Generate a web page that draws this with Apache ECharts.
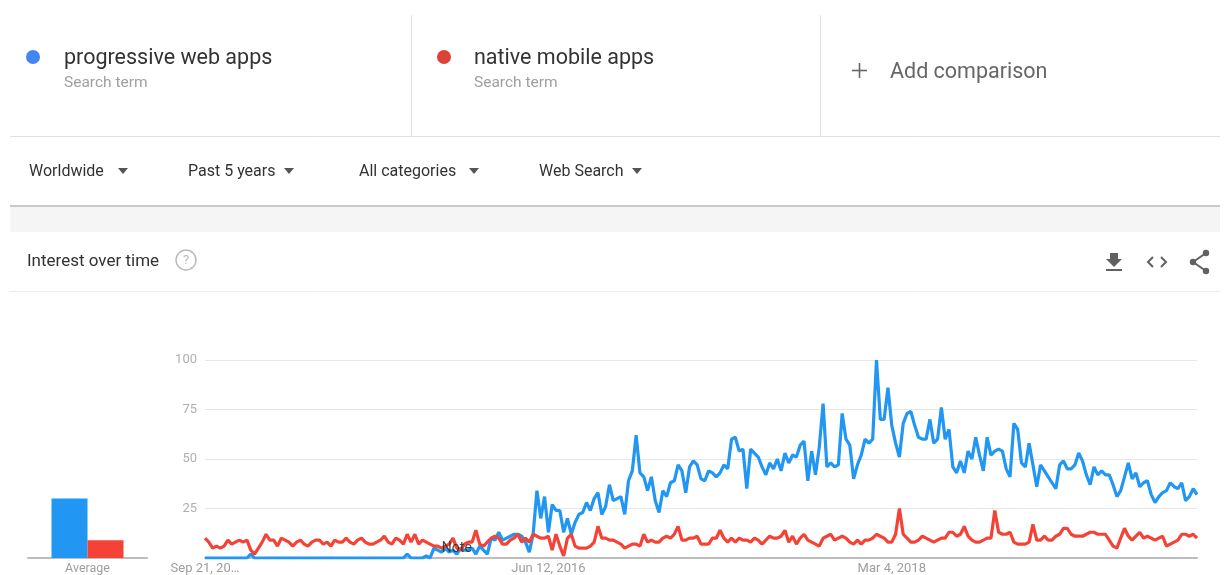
<!DOCTYPE html>
<html>
<head>
<meta charset="utf-8">
<script src="https://cdn.jsdelivr.net/npm/echarts@6/dist/echarts.min.js"></script>
<style>
html,body{margin:0;padding:0;background:#fff;}
#c{width:1226px;height:575px;}
</style>
</head>
<body>
<div id="c"></div>
<script>
// ---- data ----
const termNames = ['progressive web apps', 'native mobile apps'];
const termSub = 'Search term';
const filters = ['Worldwide', 'Past 5 years', 'All categories', 'Web Search'];
const startDate = Date.UTC(2014, 8, 21); // first weekly point (Sep 21, 2014)
const weekCount = 261;
const yTicks = [0, 25, 50, 75, 100];
const averageCategory = ['Average'];
const averageBlue = [30];
const averageRed = [9];

const pwaValues = [
  0,0,0,0,0,0,0,0,0,0, 0,0,2,0,0,0,0,0,0,0,
  0,0,0,0,0,0,0,0,0,0, 0,0,0,0,0,0,0,0,0,0,
  0,0,0,0,0,0,0,0,0,0, 0,0,0,2,0,0,0,0,1,0,
  5,4,3,5,3,4,2,5,4,4, 5,2,6,4,2,10,9,13,9,10, 11,12,12,11,8,3,12,
  34,20,31,13,27,24,24,13,20,12,18,22,23,28,
  24,30,33,22,26,37,29,30,31,22, 39,44,62,43,41,34,41,29,23,34,
  31,38,39,47,44,33,46,49,47,40, 39,44,43,41,43,47,45,60,61,54,
  55,35,55,53,51,46,42,48,45,50, 44,53,48,52,51,57,
  59,39,54,42,56,78,46,48,46,47, 73,60,57,40,47,52,60,58,60,100,
  70,70,86,67,58,51,68,73,74,67, 61,60,60,70,58,60,76,60,65,46,
  43,49,43,54,50,61,52,44,61,52,
  54,55,54,45,41,68,65,48,46,58, 47,36,47,44,41,38,35,47,49,45,
  45,47,53,49,42,37,46,42,44,42, 42,37,31,34,41,48,40,43,36,38,
  39,32,28,31,33,34,38,36,35,38, 29,31,35,32
];
const nativeValues = [
  10,8,5,6,5,6,9,7,8,9, 8,9,4,2,5,8,12,9,9,6,
  10,9,8,6,8,9,7,6,8,9, 9,7,8,6,9,8,8,10,8,7,
  9,10,8,7,7,8,9,11,8,7, 10,9,7,12,8,12,7,9,8,7,
  6,6,5,6,7,10,5,4,7,8, 8,14,7,6,8,10,11,10,7,7,
  9,10,12,8,10,8,12,11,10,10, 11,4,12,
  6,1,10,12,6,5,5,5,
  6,8,16,10,10,9,9,8,7,5, 6,7,7,6,12,8,9,8,8,10,
  11,10,12,16,9,9,10,10,11,7, 7,7,10,10,14,10,8,10,8,10,
  9,9,8,10,9,7,9,11,10,10, 11,14,8,11,7,10,
  12,9,8,7,6,10,11,12,9,10, 11,10,8,7,9,7,9,9,10,12,
  11,10,8,8,12,25,12,10,8,8, 9,11,10,9,8,9,10,10,13,13,
  11,12,16,11,9,8,8,9,10,10,
  24,13,12,12,13,8,7,7,7,8, 17,9,9,11,9,9,11,12,15,15,
  12,11,11,11,12,13,13,12,12,12, 9,6,5,10,15,11,9,11,13,10,
  11,10,9,10,11,6,7,8,9,12, 12,11,12,10
];
const noteIndex = 66;
const noteValue = 5;

// ---- categories (weekly dates) ----
const MONTHS = ['Jan','Feb','Mar','Apr','May','Jun','Jul','Aug','Sep','Oct','Nov','Dec'];
const dates = [];
for (let i = 0; i < weekCount; i++) {
  const d = new Date(startDate + i * 7 * 86400000);
  dates.push(MONTHS[d.getUTCMonth()] + ' ' + d.getUTCDate() + ', ' + d.getUTCFullYear());
}

const BLUE = '#2196f3', RED = '#f44336';
const FONT = 'Roboto, "Noto Sans", sans-serif';
const chart = echarts.init(document.getElementById('c'), null, {renderer: 'canvas'});

function tri(x, y, color) {
  return {type: 'polygon', shape: {points: [[x - 5, y - 3], [x + 5, y - 3], [x, y + 3]]}, style: {fill: color || '#555'}, silent: true};
}
function txt(x, y, text, size, color) {
  return {type: 'text', x: x, y: y, style: {text: text, font: size + 'px ' + FONT, fill: color, verticalAlign: 'middle'}, silent: true};
}
function line(x1, y1, x2, y2, color, w) {
  return {type: 'line', shape: {x1: x1, y1: y1, x2: x2, y2: y2}, style: {stroke: color, lineWidth: w || 1}, silent: true};
}

const filterX = [29, 188, 359, 539];
const triX = [123, 289, 474, 637];

const graphics = [
  // header panels
  line(411.5, 15, 411.5, 136, '#e0e0e0'),
  line(820.5, 15, 820.5, 136, '#e0e0e0'),
  line(10, 136.5, 1220, 136.5, '#e0e0e0'),
  {type: 'circle', shape: {cx: 33, cy: 57, r: 7}, style: {fill: '#4285f4'}, silent: true},
  {type: 'circle', shape: {cx: 444, cy: 57, r: 7}, style: {fill: '#db4437'}, silent: true},
  txt(64, 58.5, termNames[0], 21.5, '#333'),
  txt(64, 83, termSub, 15.5, '#a0a0a0'),
  txt(474, 58.5, termNames[1], 21.5, '#333'),
  txt(474, 83, termSub, 15.5, '#a0a0a0'),
  line(852, 70.5, 867, 70.5, '#666', 1.6),
  line(859.5, 63, 859.5, 78, '#666', 1.6),
  txt(890, 72.5, 'Add comparison', 21.5, '#666'),
  // grey band
  {type: 'rect', shape: {x: 10, y: 206, width: 1210, height: 26}, style: {fill: '#f5f5f5'}, silent: true},
  line(10, 206, 1220, 206, '#c8c8c8', 2),
  line(10, 291.5, 1220, 291.5, '#ececec'),
  // section title
  txt(27, 262, 'Interest over time', 17, '#333'),
  {type: 'circle', shape: {cx: 186, cy: 260, r: 10}, style: {fill: 'none', stroke: '#bbb', lineWidth: 1.5}, silent: true},
  {type: 'text', x: 186, y: 261, style: {text: '?', font: '13px ' + FONT, fill: '#bbb', align: 'center', verticalAlign: 'middle'}, silent: true},
  // download icon
  {type: 'polygon', shape: {points: [[1110, 253], [1118, 253], [1118, 259], [1122, 259], [1114, 267], [1106, 259], [1110, 259]]}, style: {fill: '#616161'}, silent: true},
  {type: 'rect', shape: {x: 1106, y: 269, width: 16, height: 2}, style: {fill: '#616161'}, silent: true},
  // code icon
  {type: 'polyline', shape: {points: [[1153, 257], [1148, 262], [1153, 267]]}, style: {stroke: '#616161', lineWidth: 2, fill: 'none'}, silent: true},
  {type: 'polyline', shape: {points: [[1161, 257], [1166, 262], [1161, 267]]}, style: {stroke: '#616161', lineWidth: 2, fill: 'none'}, silent: true},
  // share icon
  line(1206, 253, 1193, 262, '#616161', 2),
  line(1193, 262, 1206, 271, '#616161', 2),
  {type: 'circle', shape: {cx: 1206, cy: 253, r: 3.2}, style: {fill: '#616161'}, silent: true},
  {type: 'circle', shape: {cx: 1193, cy: 262, r: 3.2}, style: {fill: '#616161'}, silent: true},
  {type: 'circle', shape: {cx: 1206, cy: 271, r: 3.2}, style: {fill: '#616161'}, silent: true}
];
filters.forEach((f, i) => {
  graphics.push(txt(filterX[i], 172, f, 16, '#333'));
  graphics.push(tri(triX[i], 171, '#555'));
});

chart.setOption({
  animation: false,
  textStyle: {fontFamily: FONT},
  graphic: graphics,
  grid: [
    {left: 28, width: 119, top: 360, height: 198},
    {left: 205, right: 29, top: 360, height: 198}
  ],
  xAxis: [
    {gridIndex: 0, type: 'category', data: averageCategory,
     axisLine: {lineStyle: {color: '#bdbdbd', width: 2}}, axisTick: {show: false},
     axisLabel: {color: '#9e9e9e', fontSize: 12.5, margin: 4}},
    {gridIndex: 1, type: 'category', data: dates, boundaryGap: false,
     axisLine: {lineStyle: {color: '#bdbdbd', width: 2}}, axisTick: {show: false},
     axisLabel: {color: '#9e9e9e', fontSize: 13, margin: 4,
       interval: function (idx) { return idx % 90 === 0; },
       formatter: function (v, idx) { return idx === 0 ? v.slice(0, 10) + '…' : v; }}}
  ],
  yAxis: [
    {gridIndex: 0, type: 'value', min: 0, max: 100, show: false, splitLine: {show: false}},
    {gridIndex: 1, type: 'value', min: 0, max: 100, interval: 25,
     axisLine: {show: false}, axisTick: {show: false},
     axisLabel: {color: '#b0b0b0', fontSize: 13, margin: 8,
       formatter: function (v) { return v === yTicks[0] ? '' : String(v); }},
     splitLine: {lineStyle: {color: '#e6e6e6', width: 1}}}
  ],
  series: [
    {type: 'bar', xAxisIndex: 0, yAxisIndex: 0, data: averageBlue, barWidth: 36, barGap: '0%', itemStyle: {color: BLUE}},
    {type: 'bar', xAxisIndex: 0, yAxisIndex: 0, data: averageRed, barWidth: 36, barGap: '0%', itemStyle: {color: RED}},
    {type: 'line', xAxisIndex: 1, yAxisIndex: 1, name: termNames[0], data: pwaValues, showSymbol: false, symbol: 'none',
     lineStyle: {color: BLUE, width: 3.2}, itemStyle: {color: BLUE}, z: 3},
    {type: 'line', xAxisIndex: 1, yAxisIndex: 1, name: termNames[1], data: nativeValues, showSymbol: false, symbol: 'none',
     lineStyle: {color: RED, width: 3.2}, itemStyle: {color: RED}, z: 4,
     markPoint: {symbol: 'circle', symbolSize: 1, itemStyle: {color: 'rgba(0,0,0,0)'},
       label: {show: true, formatter: 'Note', color: 'rgba(40,40,40,0.85)', fontSize: 14, position: 'inside'},
       data: [{coord: [noteIndex, noteValue]}]}}
  ]
});
</script>
</body>
</html>
